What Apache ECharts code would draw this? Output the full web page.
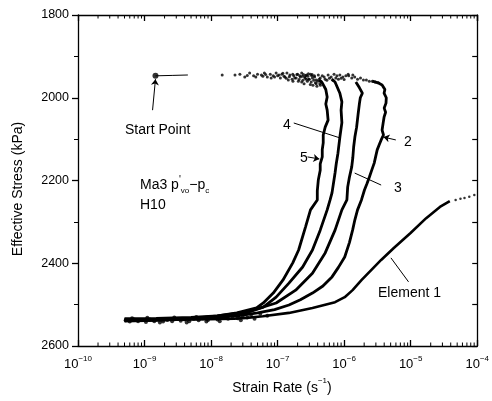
<!DOCTYPE html>
<html><head><meta charset="utf-8">
<script src="https://cdn.jsdelivr.net/npm/echarts@6/dist/echarts.min.js"></script>
<style>html,body{margin:0;padding:0;background:#fff}#c{width:492px;height:401px}</style>
</head><body><div id="c"></div>
<script>
// ---- data (strain rate [1/s], effective stress [kPa]) ----
const xTickExponents = [-10, -9, -8, -7, -6, -5, -4];
const yTickValues = [1800, 2000, 2200, 2400, 2600];

const startPoint = [[1.46e-9, 1947]];
const startLine = [[1.46e-9, 1947], [2.6e-9, 1946], [4.48e-9, 1945]];

const topBand = [
  [1.47e-8,1945],[2.29e-8,1945],[2.71e-8,1943],[3.21e-8,1950],[3.8e-8,1940],[4.36e-8,1947],
  [4.99e-8,1943],[5.71e-8,1945],[6.32e-8,1940],[7.0e-8,1950],[7.76e-8,1943],[8.6e-8,1947],
  [9.5e-8,1940],[1.05e-7,1945],[1.16e-7,1943],[1.29e-7,1950],[1.38e-7,1940],[1.53e-7,1945],
  [1.69e-7,1943],[1.81e-7,1952],[2.0e-7,1943],[2.15e-7,1947],[2.3e-7,1940],[2.55e-7,1950],
  [2.72e-7,1945],[2.92e-7,1955],[3.12e-7,1943],[3.34e-7,1952],[3.57e-7,1947],[3.82e-7,1957],
  [4.09e-7,1945],[4.37e-7,1952],[4.69e-7,1947],[5.19e-7,1955],[5.74e-7,1945],[6.37e-7,1950],
  [7.05e-7,1943],[7.8e-7,1947],[8.63e-7,1945],[9.57e-7,1950],[1.06e-6,1947],[1.17e-6,1947],
  [1.3e-6,1952],[1.44e-6,1950],[1.59e-6,1955],[1.76e-6,1952],[1.95e-6,1957],[2.16e-6,1957],
  [2.39e-6,1960],[2.65e-6,1960],[2.93e-6,1962],[3.24e-6,1964],
  [9.0e-8,1950],[1.0e-7,1947],[1.1e-7,1952],[1.25e-7,1948],[1.35e-7,1953],[1.5e-7,1949],
  [1.65e-7,1955],[1.75e-7,1947],[1.9e-7,1952],[2.1e-7,1956],[2.2e-7,1950],[2.4e-7,1958],
  [2.6e-7,1953],[2.8e-7,1960],[3.0e-7,1955],[3.2e-7,1962],[3.5e-7,1958],[3.7e-7,1964],
  [4.0e-7,1960],[4.3e-7,1966],[2.45e-7,1944],[2.85e-7,1948],[3.3e-7,1944],[1.2e-7,1941],
  [6.0e-8,1948],[8.0e-8,1952],[1.15e-6,1943],[1.35e-6,1945],
  [2.3e-7,1962],[2.5e-7,1966],[2.7e-7,1955],[3.1e-7,1968],[3.4e-7,1970],[3.6e-7,1950],
  [3.9e-7,1972],[4.2e-7,1955],[4.5e-7,1960],[3.25e-7,1947],[2.9e-7,1942],[2.65e-7,1946],
  [1.95e-7,1944],[1.45e-7,1957],[1.7e-7,1960],[5.0e-7,1950],[5.5e-7,1958],[6.0e-7,1953],
  [6.8e-7,1958],[7.5e-7,1952],[8.2e-7,1955],[9e-7,1953],[1.0e-6,1956],[6.6e-8,1944],
  [4.7e-8,1950],[3.5e-8,1946],[2.05e-7,1960],[2.35e-7,1948],[3.8e-7,1966],[4.4e-7,1970]
];

const element1 = [
  [5e-10,2537],[1.62e-9,2537],[6.3e-9,2536],[2.21e-8,2534],[3.4e-8,2532],[6e-8,2528],
  [1.48e-7,2520],[3.34e-7,2508],[7.3e-7,2494],[1.02e-6,2482],[1.34e-6,2465],[1.82e-6,2441],
  [3.6e-6,2392],[5.58e-6,2363],[9.96e-6,2327],[1.71e-5,2291],[2.75e-5,2264],[3.87e-5,2250]
];
const element1Tail = [[4.74e-5,2247],[5.6e-5,2244],[6.44e-5,2242],[7.6e-5,2239],[9.04e-5,2235]];

const element2 = [
  [2.65e-6,1960],[3.24e-6,1964],[3.72e-6,1969],[4.1e-6,1980],[3.98e-6,1989],[4.3e-6,2000],
  [4.26e-6,2013],[4.0e-6,2025],[4.2e-6,2035],[3.98e-6,2047],[3.85e-6,2062],[3.72e-6,2078],
  [3.9e-6,2090],[3.6e-6,2102],[3.4e-6,2112],[3.14e-6,2126],[3.0e-6,2140],[2.83e-6,2158],
  [2.6e-6,2175],[2.39e-6,2192],[2.2e-6,2208],[2.02e-6,2223],[1.82e-6,2247],[1.59e-6,2271],
  [1.45e-6,2295],[1.34e-6,2320],[1.2e-6,2350],[1.02e-6,2385],[8.2e-7,2410],[6.57e-7,2433],
  [4.8e-7,2455],[3.34e-7,2472],[2.2e-7,2488],[1.48e-7,2501],[9e-8,2512],[5e-8,2520],
  [2.5e-8,2527],[1.2e-8,2531],[5e-9,2533],[1.5e-9,2535],[5e-10,2536]
];
const element3 = [
  [1.5e-6,1962],[1.7e-6,1976],[1.88e-6,1989],[1.75e-6,2000],[1.7e-6,2013],[1.62e-6,2040],
  [1.54e-6,2071],[1.45e-6,2095],[1.39e-6,2119],[1.35e-6,2145],[1.3e-6,2167],[1.2e-6,2192],
  [1.13e-6,2216],[1.1e-6,2247],[9.25e-7,2271],[7.3e-7,2320],[5.19e-7,2375],[3.34e-7,2424],
  [1.87e-7,2465],[9.5e-8,2496],[3.43e-8,2518],[1.24e-8,2527],[5e-9,2531],[1.5e-9,2533],[5e-10,2534]
];
const element4 = [
  [6.5e-7,1955],[7.3e-7,1962],[8.63e-7,1989],[9.25e-7,2010],[9.0e-7,2030],[9.25e-7,2060],
  [8.63e-7,2095],[8.07e-7,2134],[7.6e-7,2160],[7.3e-7,2182],[6.57e-7,2230],[6.15e-7,2247],
  [5.56e-7,2271],[4.37e-7,2320],[3.34e-7,2368],[2.38e-7,2409],[1.48e-7,2448],[9.5e-8,2482],
  [6.1e-8,2506],[2.9e-8,2523],[1.24e-8,2530],[5e-9,2534],[1.5e-9,2537],[5e-10,2538]
];
const element5 = [
  [4.2e-7,1957],[4.69e-7,1964],[5.3e-7,1980],[5.56e-7,1998],[5.3e-7,2015],[5.56e-7,2030],
  [5.74e-7,2054],[5.19e-7,2071],[4.85e-7,2090],[4.85e-7,2109],[4.69e-7,2125],[4.69e-7,2143],
  [4.37e-7,2160],[4.37e-7,2175],[4.09e-7,2199],[3.95e-7,2225],[3.95e-7,2247],[3.12e-7,2271],
  [2.63e-7,2312],[2.07e-7,2368],[1.69e-7,2399],[1.2e-7,2441],[8.6e-8,2472],[6.1e-8,2496],
  [4.82e-8,2508],[2.44e-8,2520],[1.24e-8,2527],[5e-9,2534],[1.5e-9,2538],[5e-10,2540]
];
const bottomBand = [
  [5.2e-10,2538],[6e-10,2541],[7e-10,2536],[8e-10,2540],[9e-10,2537],[1.05e-9,2542],[1.2e-9,2536],
  [1.4e-9,2540],[1.6e-9,2535],[1.9e-9,2541],[2.2e-9,2537],[2.6e-9,2540],[3e-9,2535],[3.5e-9,2539],
  [4e-9,2536],[4.7e-9,2540],[5.5e-9,2534],[6.5e-9,2538],[7.5e-9,2533],[9e-9,2537],[1.05e-8,2532],
  [1.25e-8,2536],[1.5e-8,2530],[1.8e-8,2534],[2.1e-8,2529],[2.5e-8,2533],[3e-8,2527],[3.5e-8,2531],
  [6.5e-10,2533],[1.1e-9,2532],[1.7e-9,2543],[2.8e-9,2531],[4.3e-9,2543],[6e-9,2530],[8.5e-9,2541],
  [1.35e-8,2540],[2e-8,2525],[2.8e-8,2538],[4e-8,2524],[4.5e-8,2534],[5.5e-8,2522],[7e-8,2527]
];

// annotation leader lines (data coordinates)
const leaderArrows = [
  [[1.32e-9,2030],[1.46e-9,1955]],   // Start Point
  [[5.98e-6,2102],[3.9e-6,2095]],    // 2
  [[2.82e-7,2143],[4.24e-7,2148]]    // 5
];
const leaderLines = [
  [[3.6e-6,2211],[1.44e-6,2182]],    // 3
  [[1.75e-7,2061],[8.63e-7,2097]],   // 4
  [[9.29e-6,2445],[5.05e-6,2387]]    // Element 1
];

// ---- chart ----
const FONT = "'Liberation Sans', Arial, Helvetica, sans-serif";
const minorTicks = [];
for (let e = -10; e < -4; e++) for (let m = 2; m <= 9; m++) minorTicks.push([m * Math.pow(10, e), 2600]);

const chart = echarts.init(document.getElementById('c'), null, {renderer: 'canvas'});
const lineSeries = (data, w) => ({
  type: 'line', data, showSymbol: false, symbol: 'none', smooth: false, silent: true,
  lineStyle: {color: '#000', width: w}, z: 3
});

chart.setOption({
  animation: false,
  backgroundColor: '#fff',
  grid: {left: 78, right: 7, top: 15, bottom: 55, containLabel: false},
  xAxis: [{
    type: 'log', logBase: 10, min: 1e-10, max: 1e-4, position: 'bottom',
    axisLine: {lineStyle: {color: '#000', width: 1.3}},
    axisTick: {inside: true, length: 6, lineStyle: {color: '#000', width: 1.3}},
    splitLine: {show: false},
    axisLabel: {
      margin: 9, color: '#000',
      formatter: v => '{b|10}{s|\u2212' + Math.abs(Math.round(Math.log10(v))) + '}',
      rich: {
        b: {fontSize: 13, fontFamily: FONT, color: '#000', lineHeight: 16, verticalAlign: 'bottom'},
        s: {fontSize: 8, fontFamily: FONT, color: '#000', lineHeight: 16, verticalAlign: 'top'}
      }
    }
  }, {
    type: 'log', logBase: 10, min: 1e-10, max: 1e-4, position: 'top',
    axisLine: {lineStyle: {color: '#000', width: 1.3}},
    axisTick: {inside: true, length: 6, lineStyle: {color: '#000', width: 1.3}},
    axisLabel: {show: false}, splitLine: {show: false}
  }],
  yAxis: [{
    type: 'value', inverse: true, min: 1800, max: 2600, interval: 200, position: 'left',
    axisLine: {show: true, lineStyle: {color: '#000', width: 1.3}},
    axisTick: {show: true, inside: false, length: 6, lineStyle: {color: '#000', width: 1.3}},
    minorTick: {show: true, splitNumber: 2, length: 4, lineStyle: {color: '#000', width: 1}},
    splitLine: {show: false},
    axisLabel: {margin: 9, color: '#000', fontSize: 12.5, fontFamily: FONT,
      formatter: v => yTickValues.includes(v) ? String(v) : ''}
  }, {
    type: 'value', inverse: true, min: 1800, max: 2600, interval: 100, position: 'right',
    axisLine: {show: true, lineStyle: {color: '#000', width: 1.3}},
    axisTick: {show: true, inside: true, length: 5, lineStyle: {color: '#000', width: 1.2}},
    axisLabel: {show: false}, splitLine: {show: false}
  }],
  series: [
    {
      type: 'custom', xAxisIndex: 0, yAxisIndex: 0, silent: true, z: 5,
      data: minorTicks, encode: {x: 0, y: 1},
      renderItem(params, api) {
        const pb = api.coord([api.value(0), 2600]);
        const pt = api.coord([api.value(0), 1800]);
        return {type: 'group', children: [
          {type: 'line', shape: {x1: pb[0], y1: pb[1], x2: pb[0], y2: pb[1] - 3.5}, style: {stroke: '#000', lineWidth: 1}},
          {type: 'line', shape: {x1: pt[0], y1: pt[1], x2: pt[0], y2: pt[1] + 3.5}, style: {stroke: '#000', lineWidth: 1}}
        ]};
      }
    },
    lineSeries(element1, 2.6),
    lineSeries(element2, 2.8),
    lineSeries(element3, 2.8),
    lineSeries(element4, 2.8),
    lineSeries(element5, 2.8),
    lineSeries(startLine, 1),
    {type: 'scatter', data: topBand, symbolSize: 3, itemStyle: {color: '#000'}, silent: true},
    {type: 'scatter', data: bottomBand, symbolSize: 4, itemStyle: {color: '#000'}, silent: true},
    {type: 'scatter', data: element1Tail, symbolSize: 2.5, itemStyle: {color: '#000'}, silent: true},
    {type: 'scatter', data: startPoint, symbolSize: 6, itemStyle: {color: '#000'}, silent: true},
    {
      type: 'lines', coordinateSystem: 'cartesian2d', silent: true,
      data: leaderArrows.map(c => ({coords: c})),
      symbol: ['none', 'arrow'], symbolSize: 6,
      lineStyle: {color: '#000', width: 1, opacity: 1}
    },
    {
      type: 'lines', coordinateSystem: 'cartesian2d', silent: true,
      data: leaderLines.map(c => ({coords: c})),
      symbol: ['none', 'none'],
      lineStyle: {color: '#000', width: 1, opacity: 1}
    }
  ],
  graphic: [
    {type: 'text', x: 125, y: 130, style: {text: 'Start Point', fontSize: 14, fontFamily: FONT, fill: '#000', align: 'left', verticalAlign: 'middle'}},
    {type: 'text', x: 287, y: 125, style: {text: '4', fontSize: 14, fontFamily: FONT, fill: '#000', align: 'center', verticalAlign: 'middle'}},
    {type: 'text', x: 304, y: 158, style: {text: '5', fontSize: 14, fontFamily: FONT, fill: '#000', align: 'center', verticalAlign: 'middle'}},
    {type: 'text', x: 408, y: 142, style: {text: '2', fontSize: 14, fontFamily: FONT, fill: '#000', align: 'center', verticalAlign: 'middle'}},
    {type: 'text', x: 398, y: 188, style: {text: '3', fontSize: 14, fontFamily: FONT, fill: '#000', align: 'center', verticalAlign: 'middle'}},
    {type: 'text', x: 378, y: 293, style: {text: 'Element 1', fontSize: 14, fontFamily: FONT, fill: '#000', align: 'left', verticalAlign: 'middle'}},
    {type: 'text', x: 140, y: 185, style: {
      text: "{n|Ma3 p}{p|'}{u|vo}{n|\u2212p}{u|c}", align: 'left', verticalAlign: 'middle',
      rich: {
        n: {fontSize: 14, fontFamily: FONT, fill: '#000', lineHeight: 20, verticalAlign: 'middle'},
        p: {fontSize: 10, fontFamily: FONT, fill: '#000', lineHeight: 20, verticalAlign: 'top'},
        u: {fontSize: 8, fontFamily: FONT, fill: '#000', lineHeight: 20, verticalAlign: 'bottom'}
      }}},
    {type: 'text', x: 140, y: 205, style: {text: 'H10', fontSize: 14, fontFamily: FONT, fill: '#000', align: 'left', verticalAlign: 'middle'}},
    {type: 'text', x: 18, y: 189, rotation: Math.PI / 2, style: {text: 'Effective Stress (kPa)', fontSize: 14, fontFamily: FONT, fill: '#000', align: 'center', verticalAlign: 'middle'}},
    {type: 'text', x: 282, y: 386, style: {
      text: '{n|Strain Rate (s}{s|\u22121}{n|)}', align: 'center', verticalAlign: 'middle',
      rich: {
        n: {fontSize: 14, fontFamily: FONT, fill: '#000', lineHeight: 18, verticalAlign: 'bottom'},
        s: {fontSize: 8, fontFamily: FONT, fill: '#000', lineHeight: 18, verticalAlign: 'top'}
      }}}
  ]
});
</script></body></html>
